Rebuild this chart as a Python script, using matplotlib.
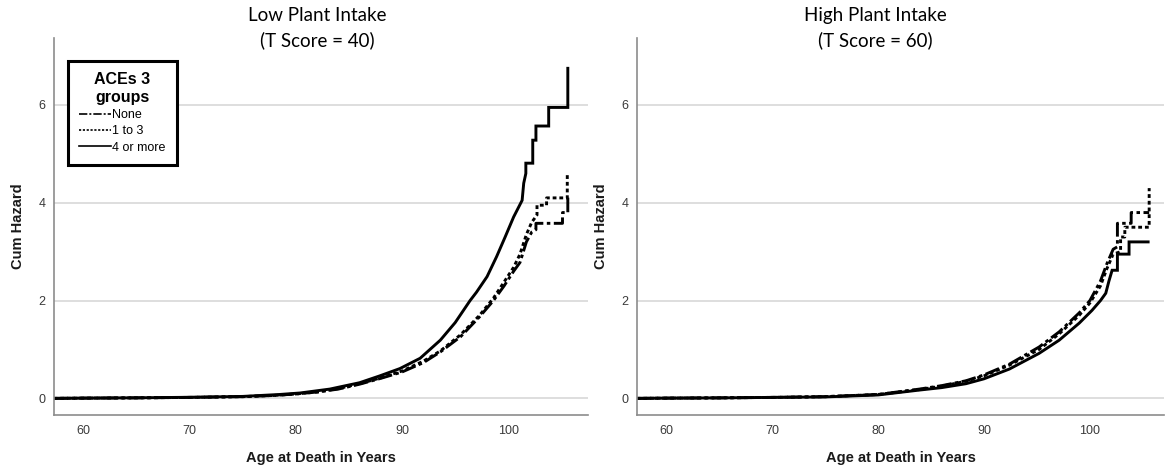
import matplotlib
matplotlib.use("Agg")
import matplotlib.pyplot as plt

# ---------------- data ----------------
groups = ["None", "1 to 3", "4 or more"]
panel_titles = ["Low Plant Intake\n(T Score = 40)", "High Plant Intake\n(T Score = 60)"]
x_ticks = [60, 70, 80, 90, 100]
y_ticks = [0, 2, 4, 6]

# Low plant intake
low_none_age = [57.2, 60, 65, 70, 75, 78, 80, 82, 84, 86, 88, 90, 92, 93.6, 95.5, 97.3, 98.6,
                99.6, 100.5, 101.1, 101.7, 102.2, 102.6, 102.6, 105.1, 105.1, 105.6, 105.6]
low_none_H = [0, 0.005, 0.01, 0.02, 0.035, 0.06, 0.09, 0.13, 0.19, 0.29, 0.41, 0.54, 0.73, 0.95,
              1.26, 1.67, 2.0, 2.3, 2.6, 2.78, 3.2, 3.4, 3.45, 3.58, 3.58, 3.8, 3.8, 4.15]

low_13_age = [57.2, 60, 65, 70, 75, 78, 80, 82, 84, 86, 88, 90, 92, 93.6, 95.5, 97.3, 98.6,
              99.6, 100.5, 101.1, 101.7, 102.2, 102.7, 102.7, 103.6, 103.6, 105.55, 105.55]
low_13_H = [0, 0.005, 0.01, 0.02, 0.035, 0.06, 0.09, 0.13, 0.2, 0.30, 0.42, 0.56, 0.76, 0.97,
            1.3, 1.7, 2.05, 2.38, 2.68, 2.95, 3.35, 3.6, 3.75, 3.95, 3.95, 4.1, 4.1, 4.6]

low_4_age = [57.2, 60, 65, 70, 75, 78.5, 80.4, 83.2, 86.0, 87.9, 89.8, 91.7, 93.6, 95.0, 96.4,
             97.0, 98.0, 98.9, 99.7, 100.5, 101.3, 101.45, 101.65, 101.65, 102.3, 102.3,
             102.6, 102.6, 103.8, 103.8, 105.6, 105.6]
low_4_H = [0, 0.005, 0.012, 0.022, 0.04, 0.08, 0.11, 0.19, 0.32, 0.46, 0.61, 0.82, 1.19, 1.55,
           2.0, 2.17, 2.49, 2.9, 3.3, 3.71, 4.05, 4.4, 4.6, 4.81, 4.81, 5.28, 5.28, 5.57, 5.57,
           5.95, 5.95, 6.75]

# High plant intake
high_none_age = [57.2, 60, 65, 70, 75, 80, 83.9, 86, 88.3, 90, 92.4, 95.2, 97.1, 99.0, 100.0,
                 101.0, 101.6, 102.2, 102.6, 102.6, 103.9, 103.9, 105.6]
high_none_H = [0, 0.005, 0.01, 0.02, 0.035, 0.08, 0.19, 0.26, 0.36, 0.48, 0.7, 1.05, 1.36, 1.75,
               2.0, 2.4, 2.75, 3.05, 3.1, 3.58, 3.58, 3.8, 3.8]

high_13_age = [57.2, 60, 65, 70, 75, 80, 83.9, 86, 88.3, 90, 92.4, 95.2, 97.1, 99.0, 100.0,
               101.0, 101.6, 102.2, 102.9, 102.9, 103.3, 103.3, 105.6, 105.6]
high_13_H = [0, 0.005, 0.01, 0.02, 0.035, 0.08, 0.18, 0.25, 0.35, 0.46, 0.68, 1.0, 1.32, 1.7,
             1.95, 2.3, 2.65, 2.95, 3.0, 3.3, 3.3, 3.5, 3.5, 4.3]

high_4_age = [57.2, 60, 65, 70, 75, 80, 83.9, 86, 88.3, 90, 92.4, 95.2, 97.1, 99.0, 100.2,
              101.0, 101.5, 101.8, 102.1, 102.6, 102.6, 103.7, 103.7, 105.5]
high_4_H = [0, 0.005, 0.01, 0.02, 0.03, 0.07, 0.17, 0.22, 0.3, 0.4, 0.6, 0.92, 1.19, 1.54, 1.8,
            2.0, 2.15, 2.4, 2.62, 2.62, 2.95, 2.95, 3.2, 3.2]

panels = [
    [(low_none_age, low_none_H), (low_13_age, low_13_H), (low_4_age, low_4_H)],
    [(high_none_age, high_none_H), (high_13_age, high_13_H), (high_4_age, high_4_H)],
]

# ---------------- styling ----------------
styles = [
    dict(linestyle=(0, (5, 1.2, 1.2, 1.2)), linewidth=2.1),
    dict(linestyle=(0, (1.3, 1.0)), linewidth=2.1),
    dict(linestyle="-", linewidth=2.1),
]

W, H = 1165, 474
fig = plt.figure(figsize=(W / 100, H / 100), dpi=100)

axes_px = [(54, 588, 38, 415), (637, 1164, 38, 415)]
xlims = [(57.24, 107.5), (57.23, 107.0)]
title_cx = [317, 875]

for i, (x0, x1, yt, yb) in enumerate(axes_px):
    ax = fig.add_axes([x0 / W, 1 - yb / H, (x1 - x0) / W, (yb - yt) / H])
    for (ages, hz), st, lab in zip(panels[i], styles, groups):
        ax.plot(ages, hz, color="black", label=lab, solid_joinstyle="miter",
                dash_capstyle="butt", **st)
    ax.set_xlim(*xlims[i])
    ax.set_ylim(-0.34, 7.37)
    ax.set_xticks(x_ticks)
    ax.set_yticks(y_ticks)
    ax.yaxis.grid(True, color="#d4d4d4", linewidth=1.1)
    ax.set_axisbelow(True)
    for s in ["top", "right"]:
        ax.spines[s].set_visible(False)
    for s in ["left", "bottom"]:
        ax.spines[s].set_color("#8c8c8c")
        ax.spines[s].set_linewidth(1.2)
    ax.tick_params(length=0, labelsize=9, labelcolor="#3a3a3a")
    ax.tick_params(axis="x", pad=7)
    ax.tick_params(axis="y", pad=6)
    for t in ax.get_xticklabels() + ax.get_yticklabels():
        t.set_family("Liberation Sans")
    ax.set_xlabel("Age at Death in Years", fontsize=10.5, fontweight="bold",
                  family="Liberation Sans", color="#1a1a1a", labelpad=10)
    ax.set_ylabel("Cum Hazard", fontsize=10.5, fontweight="bold",
                  family="Liberation Sans", color="#1a1a1a", labelpad=10)
    fig.text(title_cx[i] / W, 1 - 28 / H, panel_titles[i], ha="center", va="center",
             fontsize=13.5, family="Lato", color="black", linespacing=1.45)
    if i == 0:
        leg = ax.legend(loc="upper left", bbox_to_anchor=(68 / W, 1 - 61 / H),
                        bbox_transform=fig.transFigure, borderaxespad=0,
                        title="ACEs 3\ngroups", handlelength=2.5, handletextpad=0.15,
                        labelspacing=0.35, borderpad=0.9, fancybox=False,
                        prop={"family": "Liberation Sans", "size": 9},
                        title_fontproperties={"family": "Liberation Sans",
                                              "weight": "bold", "size": 11.5})
        leg.get_frame().set_edgecolor("black")
        leg.get_frame().set_linewidth(2.2)
        leg.get_frame().set_alpha(1)
        leg.get_title().set_multialignment("center")
        for h in leg.get_lines():
            h.set_linewidth(1.2)

fig.savefig("out.png", dpi=100)
